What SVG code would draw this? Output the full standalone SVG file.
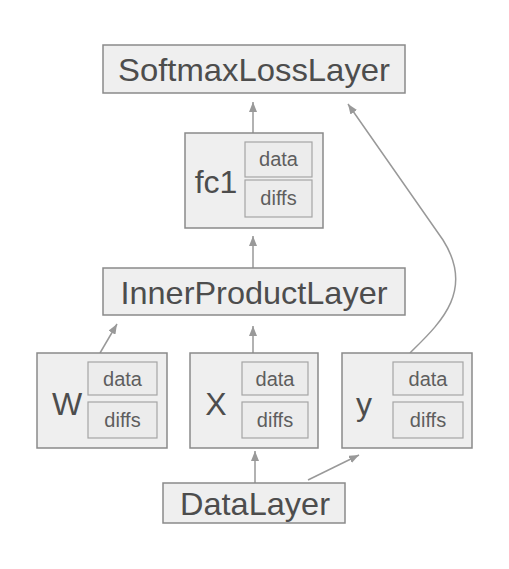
<svg xmlns="http://www.w3.org/2000/svg" width="509" height="569" viewBox="0 0 509 569">
<defs>
<style>
.box{fill:#efefef;stroke:#8a8a8a;stroke-width:1.5}
.sub{fill:#ececec;stroke:#a5a5a5;stroke-width:1.2}
.big{font-family:"Liberation Sans",Arial,sans-serif;font-size:32px;fill:#4d4d4d;text-anchor:middle}
.name{font-family:"Liberation Sans",Arial,sans-serif;font-size:32px;fill:#4d4d4d;text-anchor:middle}
.small{font-family:"Liberation Sans",Arial,sans-serif;font-size:20px;fill:#5e5e5e;text-anchor:middle}
.edge{fill:none;stroke:#999;stroke-width:1.5}
</style>
<marker id="arr" viewBox="0 0 10 8" refX="10" refY="4" markerWidth="10" markerHeight="8" markerUnits="userSpaceOnUse" orient="auto">
<path d="M0,0 L10,4 L0,8 z" fill="#999"/>
</marker>
</defs>
<rect width="509" height="569" fill="#fff"/>
<g id="connectors">
<path class="edge" d="M253,133 L253,102" marker-end="url(#arr)"/>
<path class="edge" d="M253,268 L253,236" marker-end="url(#arr)"/>
<path class="edge" d="M253,353 L253,326" marker-end="url(#arr)"/>
<path class="edge" d="M100,353 L117,324" marker-end="url(#arr)"/>
<path class="edge" d="M410,353 C438,325 476,292 443,240 L348,104" marker-end="url(#arr)"/>
<path class="edge" d="M255,483 L255,451" marker-end="url(#arr)"/>
<path class="edge" d="M308,480 L359,455" marker-end="url(#arr)"/>
</g>
<g id="softmax">
<rect class="box" x="103" y="45" width="302" height="48"/>
<text class="big" x="254" y="81" textLength="272" lengthAdjust="spacingAndGlyphs">SoftmaxLossLayer</text>
</g>
<g id="fc1">
<rect class="box" x="185" y="133" width="138" height="95"/>
<text class="name" x="216" y="193">fc1</text>
<rect class="sub" x="245" y="142" width="67" height="35"/>
<text class="small" x="278.5" y="166">data</text>
<rect class="sub" x="245" y="180" width="67" height="37"/>
<text class="small" x="278.5" y="205">diffs</text>
</g>
<g id="innerproduct">
<rect class="box" x="103" y="268" width="302" height="47"/>
<text class="big" x="254" y="304" textLength="267" lengthAdjust="spacingAndGlyphs">InnerProductLayer</text>
</g>
<g id="W">
<rect class="box" x="37" y="353" width="130" height="95"/>
<text class="name" x="67" y="415">W</text>
<rect class="sub" x="88" y="362" width="69" height="33"/>
<text class="small" x="122.5" y="386">data</text>
<rect class="sub" x="88" y="402" width="69" height="36"/>
<text class="small" x="122.5" y="427">diffs</text>
</g>
<g id="X">
<rect class="box" x="190" y="353" width="128" height="95"/>
<text class="name" x="216" y="415">X</text>
<rect class="sub" x="242" y="362" width="66" height="33"/>
<text class="small" x="275" y="386">data</text>
<rect class="sub" x="242" y="402" width="66" height="36"/>
<text class="small" x="275" y="427">diffs</text>
</g>
<g id="y">
<rect class="box" x="342" y="353" width="130" height="95"/>
<text class="name" x="364" y="415">y</text>
<rect class="sub" x="393" y="362" width="70" height="33"/>
<text class="small" x="428" y="386">data</text>
<rect class="sub" x="393" y="402" width="70" height="36"/>
<text class="small" x="428" y="427">diffs</text>
</g>
<g id="datalayer">
<rect class="box" x="163" y="483" width="182" height="40"/>
<text class="big" x="255" y="515" textLength="150" lengthAdjust="spacingAndGlyphs">DataLayer</text>
</g>
</svg>
